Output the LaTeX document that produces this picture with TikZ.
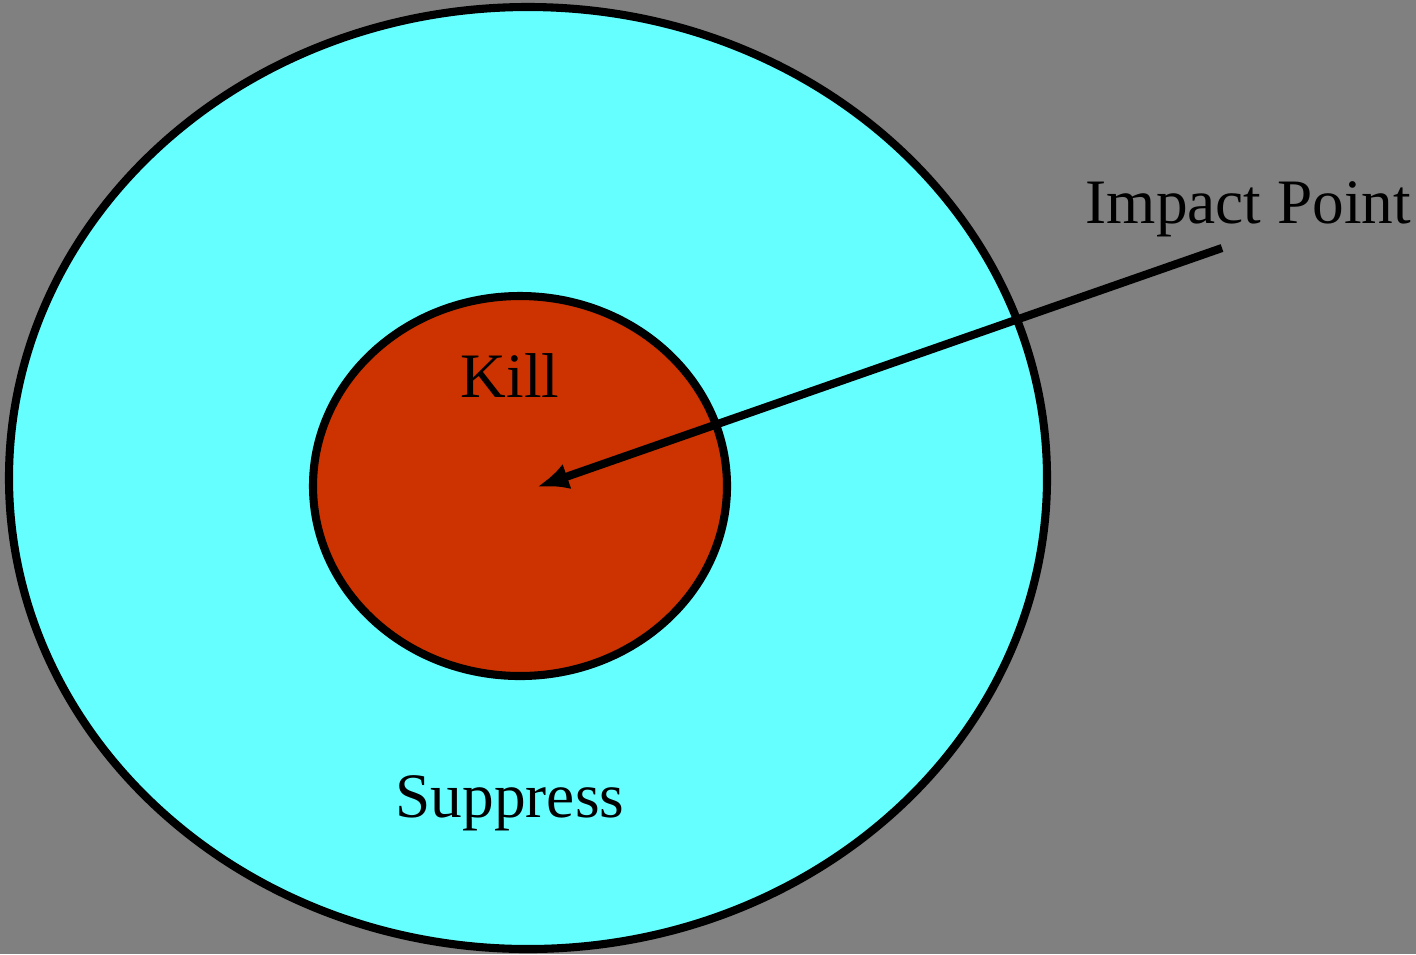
\documentclass[tikz,border=0pt]{standalone}
\usepackage{fontspec}
\setmainfont{Liberation Serif}
\usetikzlibrary{arrows.meta}
\tikzset{>={Latex[length=9pt,width=7.5pt]}}
\colorlet{bggray}{black!50}
\definecolor{suppcol}{RGB}{102,255,255}
\definecolor{killcol}{RGB}{204,51,0}
\tikzstyle{zone}=[draw=black,line width=2.3pt]
\tikzstyle{lbl}=[anchor=base,inner sep=0,font=\fontsize{18}{22}\selectfont]

\begin{document}
\begin{tikzpicture}[x=0.01cm,y=-0.01cm]
  % BACKGROUND
  \fill[bggray] (0,0) rectangle (1416,954);

  % ZONES
  \draw[zone,fill=suppcol] (528,478) ellipse (519 and 471);
  \draw[zone,fill=killcol] (520,486) ellipse (207 and 190);

  % LABELS
  \node[lbl] (kill) at (510,397) {Kill};
  \node[lbl] (suppress) at (510,817) {Suppress};
  \node[lbl,anchor=base west] (impact) at (1085,223) {Impact Point};

  % ARROW
  \coordinate (start) at (1222,248);
  \coordinate (tip) at (537,487);
  \draw[->,line width=2.3pt] (start) -- (tip);
\end{tikzpicture}
\end{document}
